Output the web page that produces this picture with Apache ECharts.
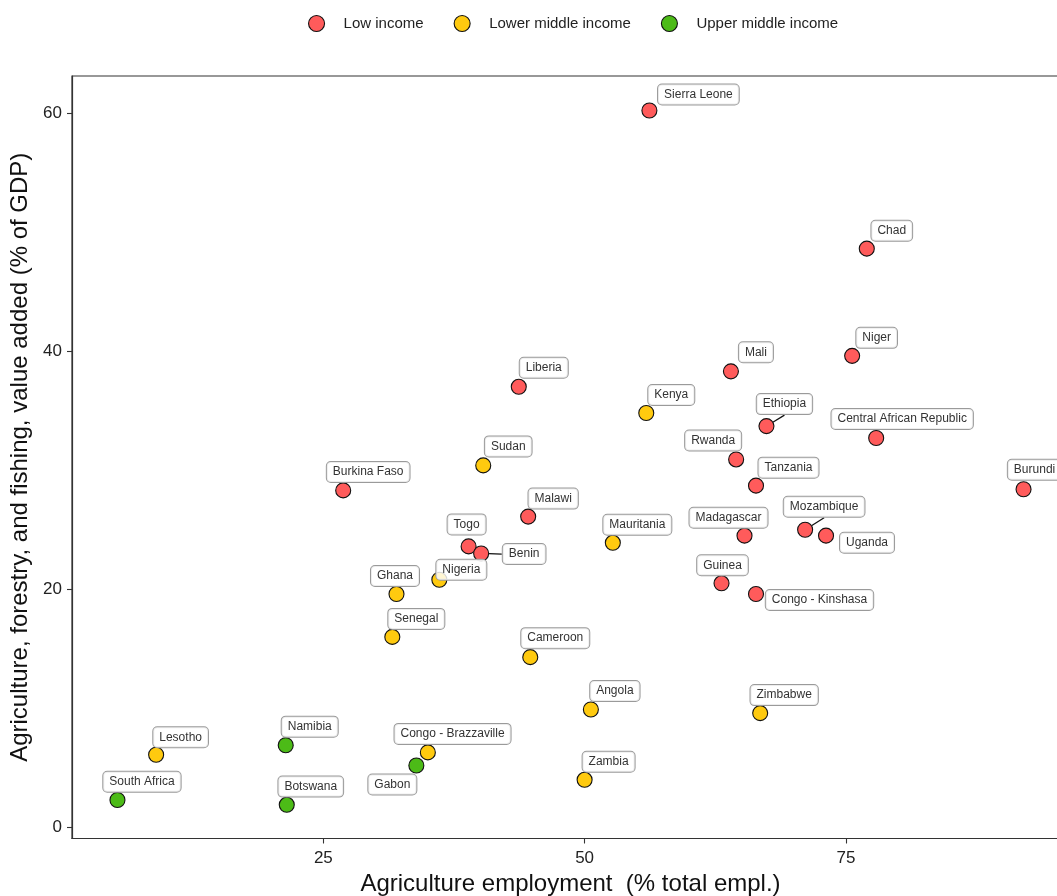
<!DOCTYPE html>
<html>
<head>
<meta charset="utf-8">
<title>Agriculture employment vs. value added</title>
<script src="https://cdn.jsdelivr.net/npm/echarts@6/dist/echarts.min.js"></script>
<style>
  html, body { margin: 0; padding: 0; background: #ffffff; }
  #chart { width: 1057px; height: 896px; }
</style>
</head>
<body>
<div id="chart"></div>
<script>
// Income groups shown in the legend
const groups = ['Low income', 'Lower middle income', 'Upper middle income'];

// Low income countries
const lowNames = ['Sierra Leone', 'Chad', 'Niger', 'Mali', 'Liberia', 'Ethiopia',
  'Central African Republic', 'Rwanda', 'Tanzania', 'Burundi', 'Burkina Faso', 'Malawi',
  'Madagascar', 'Mozambique', 'Uganda', 'Togo', 'Benin', 'Guinea', 'Congo - Kinshasa'];
const lowEmployment = [56.2, 77.0, 75.6, 64.0, 43.7, 67.4, 77.9, 64.5, 66.4, 92.0, 26.9, 44.6,
  65.3, 71.1, 73.1, 38.9, 40.1, 63.1, 66.4];
const lowValueAdded = [60.2, 48.6, 39.6, 38.3, 37.0, 33.7, 32.7, 30.9, 28.7, 28.4, 28.3, 26.1,
  24.5, 25.0, 24.5, 23.6, 23.0, 20.5, 19.6];

// Lower middle income countries
const lmNames = ['Kenya', 'Sudan', 'Mauritania', 'Nigeria', 'Ghana', 'Senegal', 'Cameroon',
  'Angola', 'Zimbabwe', 'Lesotho', 'Congo - Brazzaville', 'Zambia'];
const lmEmployment = [55.9, 40.3, 52.7, 36.1, 32.0, 31.6, 44.8, 50.6, 66.8, 9.0, 35.0, 50.0];
const lmValueAdded = [34.8, 30.4, 23.9, 20.8, 19.6, 16.0, 14.3, 9.9, 9.6, 6.1, 6.3, 4.0];

// Upper middle income countries
const umNames = ['Namibia', 'Gabon', 'South Africa', 'Botswana'];
const umEmployment = [21.4, 33.9, 5.3, 21.5];
const umValueAdded = [6.9, 5.2, 2.3, 1.9];

// Axis ticks
const xTicks = [25, 50, 75];
const yTicks = [0, 20, 40, 60];

// Where each country's label box sits relative to its point (px)
const labelNudge = {
  'Sierra Leone': [49, -16], 'Chad': [25, -18], 'Niger': [24.5, -18], 'Mali': [25, -19],
  'Liberia': [25, -19], 'Ethiopia': [18, -22], 'Central African Republic': [26, -19],
  'Rwanda': [-23, -19], 'Tanzania': [32.5, -18], 'Burundi': [11, -19.5],
  'Burkina Faso': [25, -18.5], 'Malawi': [25, -18], 'Madagascar': [-16, -18],
  'Mozambique': [19, -23], 'Uganda': [41, 7], 'Togo': [-2, -22], 'Benin': [43, 0.5],
  'Guinea': [1, -18], 'Congo - Kinshasa': [63.5, 6],
  'Kenya': [25, -18], 'Sudan': [25, -19], 'Mauritania': [24.5, -18], 'Nigeria': [22, -10],
  'Ghana': [-1.5, -18], 'Senegal': [24, -18], 'Cameroon': [25, -19], 'Angola': [24, -18.5],
  'Zimbabwe': [24, -18], 'Lesotho': [24.5, -17.5], 'Congo - Brazzaville': [24.7, -18.5],
  'Zambia': [24, -18],
  'Namibia': [24, -18.6], 'Gabon': [-24, 19], 'South Africa': [24.5, -18.3], 'Botswana': [24, -18.2]
};
// Labels that are joined to their point by a segment
const leaderLines = ['Ethiopia', 'Benin', 'Mozambique'];

const colors = ['#FF5B5B', '#FFCA0F', '#4CBB17'];
const FONT = '"Liberation Sans", Arial, sans-serif';

function buildData(names, xs, ys) {
  return names.map((n, i) => ({
    name: n,
    value: [xs[i], ys[i]],
    labelLine: { show: leaderLines.indexOf(n) >= 0 }
  }));
}

const seriesData = [
  buildData(lowNames, lowEmployment, lowValueAdded),
  buildData(lmNames, lmEmployment, lmValueAdded),
  buildData(umNames, umEmployment, umValueAdded)
];

const chart = echarts.init(document.getElementById('chart'), null, { renderer: 'canvas' });

const series = groups.map((g, si) => ({
  name: g,
  type: 'scatter',
  data: seriesData[si],
  symbol: 'circle',
  symbolSize: 15,
  itemStyle: { color: colors[si], borderColor: '#111', borderWidth: 1.1, opacity: 1 },
  label: {
    show: true,
    position: 'inside',
    formatter: '{b}',
    fontFamily: FONT,
    fontSize: 12,
    color: '#333',
    backgroundColor: 'rgba(255,255,255,0.82)',
    borderColor: '#9a9a9a',
    borderWidth: 1,
    borderRadius: 4,
    padding: [4, 6, 4, 6]
  },
  labelLine: { show: false, lineStyle: { color: '#111', width: 1.3 } },
  labelLayout: function (p) {
    const n = seriesData[si][p.dataIndex].name;
    const o = labelNudge[n] || [0, -18];
    return { dx: o[0], dy: o[1] };
  },
  emphasis: { disabled: true },
  animation: false
}));

chart.setOption({
  backgroundColor: '#ffffff',
  animation: false,
  textStyle: { fontFamily: FONT },
  legend: {
    data: groups.map((g, i) => ({ name: g, itemStyle: { color: colors[i], borderColor: '#111', borderWidth: 1.1 } })),
    left: 303,
    top: 10,
    icon: 'circle',
    itemWidth: 16,
    itemHeight: 16,
    itemGap: 30,
    textStyle: { fontFamily: FONT, fontSize: 15, color: '#222', padding: [0, 0, 0, 14] },
    selectedMode: false
  },
  grid: {
    left: 72,
    top: 76,
    right: -12,
    bottom: 57.5,
    outerBoundsMode: 'none',
    show: true,
    borderColor: '#333',
    borderWidth: 1.2,
    containLabel: false
  },
  xAxis: {
    type: 'value',
    min: 0.95,
    max: 96.35,
    name: 'Agriculture employment  (% total empl.)',
    nameLocation: 'middle',
    nameGap: 34,
    nameTextStyle: { fontFamily: FONT, fontSize: 24, color: '#111' },
    axisLine: { show: true, onZero: false, lineStyle: { color: '#333', width: 1.2 } },
    axisTick: { show: true, customValues: xTicks, length: 5, lineStyle: { color: '#333', width: 1.1 } },
    axisLabel: { customValues: xTicks, fontFamily: FONT, fontSize: 17, color: '#222', margin: 11 },
    splitLine: { show: false }
  },
  yAxis: {
    type: 'value',
    min: -0.93,
    max: 63.1,
    name: 'Agriculture, forestry, and fishing, value added (% of GDP)',
    nameLocation: 'middle',
    nameGap: 32,
    nameTextStyle: { fontFamily: FONT, fontSize: 24, color: '#111' },
    axisLine: { show: true, onZero: false, lineStyle: { color: '#333', width: 1.2 } },
    axisTick: { show: true, customValues: yTicks, length: 5, lineStyle: { color: '#333', width: 1.1 } },
    axisLabel: { customValues: yTicks, fontFamily: FONT, fontSize: 17, color: '#222', margin: 10 },
    splitLine: { show: false }
  },
  series: series
});
</script>
</body>
</html>
